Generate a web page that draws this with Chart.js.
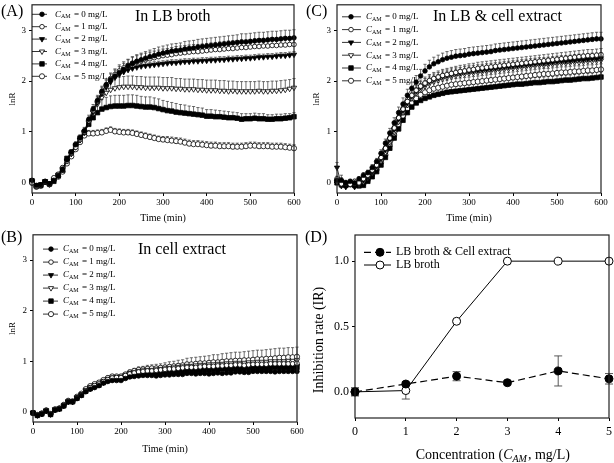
<!DOCTYPE html>
<html>
<head>
<meta charset="utf-8">
<script src="https://cdn.jsdelivr.net/npm/chart.js"></script>
<style>
  body { margin: 0; background: #fff; }
  #wrap { position: relative; width: 614px; height: 463px; }
  canvas { position: absolute; }
</style>
</head>
<body>
<div id="wrap">
  <canvas id="chartA" width="304" height="230" style="left:0px;top:0px"></canvas>
  <canvas id="chartC" width="310" height="230" style="left:304px;top:0px"></canvas>
  <canvas id="chartB" width="304" height="233" style="left:0px;top:230px"></canvas>
  <canvas id="chartD" width="310" height="233" style="left:304px;top:230px"></canvas>
</div>
<script>
// ---- data ----
const timeMin = [0,10,20,30,40,50,60,70,80,90,
  100,110,120,130,140,150,160,170,180,190,
  200,210,220,230,240,250,260,270,280,290,
  300,310,320,330,340,350,360,370,380,390,
  400,410,420,430,440,450,460,470,480,490,
  500,510,520,530,540,550,560,570,580,590,
  600];
const timeTicks = [0, 100, 200, 300, 400, 500, 600];
const lnRTicks = [0, 1, 2, 3];
const concMgL = [0, 1, 2, 3, 4, 5];

// (A) in LB broth
const brothCam0 = [0.05,-0.05,-0.04,0.03,-0.02,0.05,0.15,0.27,0.45,0.60,
  0.75,0.88,1.02,1.25,1.45,1.62,1.80,1.93,2.03,2.10,
  2.17,2.23,2.30,2.35,2.39,2.42,2.45,2.48,2.50,2.53,
  2.55,2.57,2.59,2.60,2.61,2.63,2.64,2.65,2.67,2.68,
  2.69,2.70,2.71,2.72,2.73,2.74,2.75,2.76,2.77,2.77,
  2.78,2.79,2.80,2.80,2.81,2.82,2.82,2.83,2.84,2.84,
  2.85];
const brothCam1 = [0.00,-0.07,-0.05,0.02,-0.03,0.10,0.17,0.30,0.42,0.58,
  0.70,0.85,1.00,1.22,1.42,1.60,1.78,1.92,2.05,2.13,
  2.20,2.26,2.31,2.35,2.38,2.40,2.42,2.44,2.46,2.48,
  2.50,2.51,2.52,2.54,2.55,2.56,2.57,2.58,2.58,2.59,
  2.60,2.61,2.62,2.62,2.63,2.64,2.64,2.65,2.66,2.66,
  2.67,2.68,2.68,2.69,2.69,2.70,2.70,2.71,2.71,2.72,
  2.72];
const brothCam2 = [0.02,-0.06,-0.03,0.03,-0.02,0.06,0.14,0.28,0.43,0.57,
  0.72,0.85,1.00,1.20,1.40,1.58,1.75,1.88,1.98,2.07,
  2.13,2.18,2.22,2.25,2.27,2.29,2.30,2.31,2.32,2.33,
  2.34,2.35,2.36,2.36,2.37,2.38,2.38,2.39,2.39,2.40,
  2.40,2.41,2.41,2.42,2.42,2.43,2.43,2.44,2.44,2.45,
  2.45,2.46,2.47,2.47,2.48,2.48,2.49,2.50,2.50,2.51,
  2.52];
const brothCam3 = [0.03,-0.05,-0.04,0.02,-0.03,0.07,0.16,0.26,0.44,0.58,
  0.70,0.84,0.98,1.18,1.38,1.55,1.68,1.77,1.83,1.86,
  1.88,1.89,1.89,1.89,1.88,1.88,1.87,1.87,1.87,1.87,
  1.86,1.86,1.86,1.85,1.85,1.84,1.84,1.84,1.83,1.83,
  1.82,1.82,1.82,1.81,1.81,1.80,1.81,1.80,1.80,1.80,
  1.80,1.80,1.81,1.80,1.80,1.81,1.81,1.82,1.83,1.85,
  1.87];
const brothCam4 = [0.04,-0.06,-0.05,0.02,-0.02,0.03,0.14,0.25,0.48,0.60,
  0.74,0.88,1.00,1.15,1.28,1.38,1.45,1.48,1.50,1.51,
  1.51,1.51,1.52,1.52,1.51,1.50,1.49,1.49,1.48,1.46,
  1.44,1.42,1.41,1.39,1.38,1.37,1.36,1.35,1.34,1.33,
  1.31,1.31,1.30,1.30,1.29,1.28,1.28,1.27,1.25,1.26,
  1.26,1.27,1.26,1.26,1.25,1.25,1.26,1.26,1.27,1.28,
  1.30];
const brothCam5 = [0.00,-0.08,-0.06,0.02,-0.03,0.06,0.12,0.22,0.38,0.52,
  0.66,0.80,0.93,0.97,0.97,0.98,0.99,1.02,1.04,1.01,
  1.00,0.99,0.99,0.98,0.96,0.94,0.92,0.90,0.88,0.86,
  0.85,0.84,0.83,0.82,0.81,0.79,0.77,0.76,0.76,0.75,
  0.74,0.73,0.73,0.72,0.72,0.72,0.71,0.71,0.71,0.72,
  0.73,0.73,0.72,0.72,0.72,0.71,0.71,0.71,0.70,0.69,
  0.68];
const brothErr0 = [0.03,0.03,0.03,0.03,0.03,0.03,0.04,0.04,0.05,0.05,
  0.06,0.06,0.07,0.08,0.09,0.10,0.10,0.11,0.11,0.12,
  0.12,0.12,0.12,0.13,0.13,0.13,0.13,0.13,0.14,0.14,
  0.14,0.14,0.14,0.14,0.14,0.15,0.15,0.15,0.15,0.15,
  0.15,0.15,0.15,0.15,0.15,0.15,0.15,0.15,0.16,0.16,
  0.16,0.16,0.16,0.16,0.16,0.16,0.16,0.16,0.16,0.16,
  0.16];
const brothErr1 = [0.02,0.02,0.03,0.03,0.03,0.03,0.03,0.04,0.04,0.05,
  0.05,0.06,0.07,0.07,0.08,0.09,0.10,0.10,0.11,0.11,
  0.12,0.12,0.12,0.12,0.12,0.13,0.13,0.13,0.13,0.13,
  0.13,0.13,0.14,0.14,0.14,0.14,0.14,0.14,0.14,0.14,
  0.14,0.14,0.14,0.15,0.15,0.15,0.15,0.15,0.15,0.15,
  0.15,0.15,0.15,0.15,0.15,0.15,0.15,0.15,0.15,0.15,
  0.15];
const brothErr2 = [0.02,0.02,0.02,0.02,0.02,0.03,0.03,0.03,0.04,0.04,
  0.04,0.05,0.05,0.05,0.06,0.06,0.06,0.06,0.06,0.06,
  0.06,0.06,0.06,0.06,0.06,0.06,0.06,0.06,0.06,0.06,
  0.06,0.06,0.06,0.06,0.06,0.06,0.06,0.06,0.06,0.06,
  0.06,0.06,0.06,0.06,0.06,0.06,0.06,0.06,0.06,0.06,
  0.06,0.06,0.06,0.06,0.06,0.06,0.06,0.06,0.06,0.06,
  0.06];
const brothErr3 = [0.03,0.03,0.03,0.03,0.03,0.03,0.03,0.04,0.04,0.05,
  0.05,0.06,0.08,0.10,0.12,0.14,0.16,0.18,0.19,0.20,
  0.20,0.20,0.21,0.21,0.21,0.21,0.21,0.21,0.21,0.21,
  0.21,0.21,0.21,0.20,0.20,0.20,0.20,0.20,0.20,0.20,
  0.20,0.20,0.20,0.20,0.20,0.20,0.19,0.19,0.19,0.19,
  0.19,0.19,0.19,0.19,0.19,0.19,0.19,0.19,0.19,0.18,
  0.18];
const brothErr4 = [0.03,0.03,0.03,0.03,0.03,0.03,0.03,0.04,0.04,0.05,
  0.05,0.06,0.08,0.11,0.14,0.17,0.19,0.20,0.21,0.21,
  0.21,0.21,0.21,0.21,0.21,0.20,0.20,0.20,0.19,0.19,
  0.18,0.18,0.17,0.17,0.16,0.16,0.15,0.15,0.14,0.14,
  0.13,0.13,0.13,0.12,0.12,0.12,0.11,0.11,0.11,0.10,
  0.10,0.10,0.10,0.10,0.09,0.09,0.09,0.09,0.09,0.08,
  0.08];
const brothErr5 = [0.02,0.02,0.02,0.02,0.02,0.02,0.03,0.03,0.03,0.04,
  0.04,0.05,0.05,0.06,0.06,0.06,0.06,0.06,0.06,0.06,
  0.06,0.06,0.06,0.06,0.06,0.06,0.06,0.06,0.06,0.06,
  0.06,0.07,0.07,0.07,0.07,0.07,0.07,0.07,0.07,0.07,
  0.07,0.07,0.07,0.07,0.07,0.07,0.07,0.07,0.07,0.07,
  0.07,0.07,0.07,0.07,0.07,0.07,0.07,0.07,0.07,0.07,
  0.07];

// (B) in cell extract
const extractCam0 = [-0.02,-0.07,-0.04,0.02,-0.05,0.04,0.06,0.12,0.20,0.20,
  0.27,0.33,0.40,0.45,0.48,0.52,0.57,0.60,0.62,0.62,
  0.62,0.66,0.69,0.70,0.71,0.72,0.72,0.72,0.71,0.72,
  0.73,0.73,0.74,0.74,0.74,0.76,0.76,0.75,0.76,0.76,
  0.75,0.76,0.77,0.76,0.77,0.77,0.79,0.79,0.78,0.78,
  0.80,0.80,0.80,0.80,0.80,0.79,0.80,0.80,0.80,0.80,
  0.80];
const extractCam1 = [-0.02,-0.06,-0.03,0.03,-0.04,0.05,0.07,0.13,0.21,0.20,
  0.28,0.34,0.42,0.48,0.52,0.55,0.60,0.64,0.67,0.68,
  0.68,0.72,0.75,0.77,0.79,0.80,0.81,0.81,0.82,0.83,
  0.84,0.85,0.85,0.86,0.87,0.88,0.88,0.88,0.89,0.90,
  0.90,0.90,0.91,0.91,0.92,0.92,0.93,0.93,0.92,0.93,
  0.94,0.94,0.94,0.94,0.95,0.95,0.95,0.95,0.95,0.95,
  0.96];
const extractCam2 = [-0.02,-0.07,-0.04,0.02,-0.05,0.04,0.06,0.12,0.20,0.20,
  0.27,0.33,0.41,0.46,0.50,0.53,0.58,0.62,0.64,0.65,
  0.65,0.69,0.72,0.74,0.76,0.77,0.78,0.78,0.78,0.79,
  0.80,0.80,0.81,0.82,0.82,0.83,0.84,0.84,0.85,0.85,
  0.86,0.86,0.87,0.87,0.87,0.88,0.88,0.89,0.88,0.89,
  0.89,0.90,0.90,0.90,0.90,0.90,0.90,0.91,0.91,0.91,
  0.91];
const extractCam3 = [-0.02,-0.06,-0.04,0.03,-0.04,0.05,0.07,0.13,0.21,0.21,
  0.29,0.35,0.43,0.49,0.53,0.56,0.61,0.65,0.68,0.69,
  0.69,0.73,0.77,0.79,0.81,0.82,0.83,0.83,0.84,0.85,
  0.86,0.87,0.88,0.89,0.90,0.91,0.91,0.92,0.93,0.93,
  0.94,0.94,0.95,0.95,0.96,0.96,0.97,0.97,0.97,0.98,
  0.98,0.99,0.99,0.99,1.00,1.00,1.00,1.00,1.01,1.01,
  1.02];
const extractCam4 = [-0.02,-0.07,-0.04,0.02,-0.05,0.04,0.06,0.12,0.20,0.20,
  0.27,0.33,0.41,0.46,0.50,0.53,0.58,0.62,0.64,0.65,
  0.65,0.68,0.71,0.73,0.74,0.75,0.76,0.76,0.76,0.77,
  0.78,0.78,0.79,0.80,0.80,0.81,0.82,0.82,0.83,0.83,
  0.83,0.84,0.84,0.85,0.85,0.85,0.86,0.86,0.86,0.86,
  0.87,0.87,0.87,0.87,0.88,0.88,0.88,0.88,0.88,0.88,
  0.88];
const extractCam5 = [-0.02,-0.06,-0.03,0.03,-0.04,0.05,0.07,0.14,0.22,0.21,
  0.30,0.36,0.45,0.51,0.55,0.58,0.63,0.67,0.70,0.70,
  0.70,0.74,0.78,0.81,0.83,0.84,0.85,0.86,0.86,0.87,
  0.88,0.89,0.90,0.91,0.92,0.94,0.94,0.95,0.96,0.96,
  0.97,0.98,0.98,0.99,1.00,1.00,1.01,1.01,1.02,1.02,
  1.03,1.04,1.04,1.05,1.05,1.06,1.07,1.07,1.08,1.08,
  1.09];
const extractErr0 = [0.02,0.02,0.02,0.02,0.02,0.02,0.02,0.02,0.02,0.02,
  0.02,0.02,0.02,0.02,0.02,0.02,0.02,0.02,0.02,0.02,
  0.02,0.02,0.02,0.02,0.02,0.02,0.02,0.02,0.02,0.02,
  0.02,0.02,0.02,0.02,0.02,0.02,0.02,0.02,0.02,0.02,
  0.02,0.02,0.02,0.02,0.02,0.02,0.02,0.02,0.02,0.02,
  0.02,0.02,0.02,0.02,0.02,0.02,0.02,0.02,0.02,0.02,
  0.02];
const extractErr1 = [0.02,0.02,0.02,0.02,0.02,0.02,0.02,0.02,0.02,0.02,
  0.02,0.02,0.03,0.03,0.03,0.03,0.03,0.03,0.03,0.03,
  0.03,0.03,0.03,0.03,0.03,0.03,0.04,0.04,0.04,0.04,
  0.04,0.04,0.04,0.04,0.04,0.04,0.04,0.04,0.04,0.04,
  0.04,0.04,0.04,0.04,0.04,0.04,0.04,0.04,0.04,0.04,
  0.04,0.04,0.04,0.04,0.04,0.04,0.04,0.04,0.04,0.04,
  0.04];
const extractErr2 = [0.02,0.02,0.02,0.02,0.02,0.02,0.02,0.02,0.02,0.02,
  0.02,0.02,0.02,0.03,0.03,0.03,0.03,0.03,0.03,0.03,
  0.03,0.03,0.03,0.03,0.03,0.03,0.03,0.03,0.03,0.03,
  0.03,0.03,0.03,0.03,0.03,0.03,0.03,0.03,0.03,0.03,
  0.03,0.03,0.03,0.03,0.03,0.03,0.03,0.03,0.03,0.03,
  0.03,0.03,0.03,0.03,0.03,0.03,0.03,0.03,0.03,0.03,
  0.03];
const extractErr3 = [0.02,0.02,0.02,0.02,0.02,0.02,0.02,0.02,0.02,0.02,
  0.02,0.02,0.03,0.03,0.03,0.03,0.03,0.03,0.03,0.03,
  0.03,0.03,0.04,0.04,0.04,0.04,0.04,0.04,0.04,0.05,
  0.05,0.05,0.05,0.05,0.05,0.05,0.05,0.05,0.05,0.05,
  0.05,0.05,0.05,0.06,0.06,0.06,0.06,0.06,0.06,0.06,
  0.06,0.06,0.06,0.06,0.06,0.06,0.06,0.06,0.06,0.06,
  0.06];
const extractErr4 = [0.02,0.02,0.02,0.02,0.02,0.02,0.02,0.02,0.02,0.02,
  0.02,0.02,0.02,0.02,0.02,0.03,0.03,0.03,0.03,0.03,
  0.03,0.03,0.03,0.03,0.03,0.03,0.03,0.03,0.03,0.03,
  0.03,0.03,0.03,0.03,0.03,0.03,0.03,0.03,0.03,0.03,
  0.03,0.03,0.03,0.03,0.03,0.03,0.03,0.03,0.03,0.03,
  0.03,0.03,0.03,0.03,0.03,0.03,0.03,0.03,0.03,0.03,
  0.03];
const extractErr5 = [0.02,0.02,0.02,0.02,0.02,0.02,0.02,0.02,0.02,0.02,
  0.03,0.03,0.03,0.03,0.03,0.03,0.03,0.04,0.04,0.04,
  0.04,0.04,0.05,0.05,0.06,0.06,0.07,0.07,0.08,0.08,
  0.09,0.10,0.10,0.11,0.11,0.12,0.13,0.13,0.13,0.14,
  0.14,0.15,0.15,0.16,0.16,0.17,0.17,0.17,0.17,0.18,
  0.18,0.18,0.18,0.18,0.19,0.19,0.19,0.19,0.19,0.19,
  0.19];

// (C) in LB & cell extract
const mixCam0 = [0.05,0.05,0.00,0.03,0.00,0.08,0.15,0.20,0.30,0.42,
  0.58,0.78,0.98,1.18,1.38,1.55,1.72,1.86,1.98,2.10,
  2.20,2.28,2.34,2.38,2.42,2.45,2.47,2.49,2.50,2.51,
  2.53,2.54,2.55,2.56,2.57,2.58,2.60,2.61,2.62,2.63,
  2.64,2.65,2.66,2.67,2.68,2.69,2.70,2.71,2.72,2.73,
  2.74,2.75,2.76,2.77,2.78,2.79,2.80,2.81,2.82,2.83,
  2.83];
const mixCam1 = [0.08,-0.02,0.00,-0.03,0.03,0.00,0.08,0.15,0.25,0.35,
  0.50,0.68,0.88,1.08,1.28,1.45,1.60,1.72,1.82,1.90,
  1.96,2.01,2.05,2.08,2.11,2.13,2.15,2.17,2.19,2.20,
  2.22,2.23,2.25,2.26,2.27,2.28,2.29,2.30,2.31,2.32,
  2.33,2.34,2.35,2.36,2.37,2.38,2.39,2.40,2.41,2.42,
  2.43,2.44,2.45,2.46,2.47,2.48,2.49,2.50,2.50,2.51,
  2.52];
const mixCam2 = [0.30,-0.05,-0.08,-0.03,-0.08,-0.02,0.05,0.12,0.22,0.33,
  0.47,0.65,0.85,1.05,1.25,1.42,1.57,1.70,1.80,1.88,
  1.94,1.99,2.03,2.06,2.09,2.11,2.13,2.15,2.16,2.18,
  2.19,2.20,2.21,2.22,2.23,2.24,2.25,2.26,2.27,2.28,
  2.29,2.30,2.31,2.32,2.33,2.34,2.35,2.35,2.36,2.37,
  2.38,2.39,2.39,2.40,2.41,2.42,2.42,2.43,2.44,2.44,
  2.45];
const mixCam3 = [0.02,-0.06,-0.05,-0.02,-0.06,-0.04,0.02,0.10,0.20,0.30,
  0.43,0.60,0.80,1.00,1.20,1.38,1.53,1.66,1.76,1.84,
  1.90,1.95,1.99,2.02,2.05,2.07,2.09,2.11,2.12,2.14,
  2.15,2.16,2.17,2.18,2.19,2.20,2.21,2.22,2.23,2.24,
  2.25,2.26,2.27,2.28,2.29,2.30,2.31,2.31,2.32,2.33,
  2.34,2.35,2.35,2.36,2.37,2.37,2.38,2.39,2.39,2.40,
  2.41];
const mixCam4 = [0.00,-0.04,-0.05,-0.03,-0.05,-0.06,-0.05,0.03,0.12,0.22,
  0.35,0.50,0.68,0.88,1.06,1.23,1.38,1.49,1.57,1.62,
  1.66,1.69,1.72,1.74,1.76,1.78,1.79,1.80,1.81,1.82,
  1.83,1.84,1.85,1.86,1.87,1.88,1.89,1.90,1.91,1.92,
  1.93,1.94,1.94,1.95,1.96,1.97,1.97,1.98,1.99,1.99,
  2.00,2.01,2.02,2.02,2.03,2.04,2.05,2.05,2.06,2.07,
  2.08];
const mixCam5 = [0.05,0.02,-0.02,0.00,-0.04,-0.03,-0.02,0.06,0.16,0.26,
  0.40,0.55,0.74,0.94,1.13,1.30,1.45,1.57,1.66,1.73,
  1.78,1.82,1.85,1.87,1.89,1.91,1.93,1.94,1.95,1.96,
  1.97,1.98,1.99,2.00,2.01,2.02,2.03,2.04,2.05,2.06,
  2.07,2.08,2.09,2.10,2.11,2.12,2.13,2.14,2.14,2.15,
  2.16,2.17,2.17,2.18,2.19,2.19,2.20,2.21,2.21,2.22,
  2.23];
const mixErr0 = [0.04,0.05,0.04,0.04,0.04,0.04,0.05,0.05,0.06,0.06,
  0.07,0.08,0.09,0.10,0.11,0.12,0.12,0.12,0.13,0.13,
  0.13,0.13,0.13,0.13,0.13,0.13,0.13,0.13,0.13,0.13,
  0.13,0.13,0.13,0.13,0.13,0.13,0.13,0.13,0.13,0.13,
  0.13,0.13,0.13,0.13,0.13,0.13,0.13,0.13,0.13,0.13,
  0.13,0.13,0.13,0.13,0.13,0.13,0.13,0.13,0.13,0.13,
  0.13];
const mixErr1 = [0.05,0.17,0.05,0.04,0.04,0.04,0.05,0.05,0.06,0.06,
  0.07,0.08,0.09,0.10,0.11,0.11,0.12,0.12,0.12,0.12,
  0.12,0.12,0.12,0.12,0.12,0.12,0.12,0.12,0.12,0.12,
  0.12,0.12,0.12,0.12,0.12,0.12,0.12,0.12,0.12,0.12,
  0.12,0.12,0.12,0.12,0.12,0.12,0.12,0.12,0.12,0.12,
  0.12,0.12,0.12,0.12,0.12,0.12,0.12,0.12,0.12,0.12,
  0.12];
const mixErr2 = [0.10,0.05,0.04,0.04,0.04,0.04,0.05,0.05,0.06,0.06,
  0.07,0.08,0.09,0.10,0.10,0.11,0.11,0.11,0.11,0.11,
  0.11,0.11,0.11,0.11,0.11,0.11,0.11,0.11,0.11,0.11,
  0.11,0.11,0.11,0.11,0.11,0.11,0.11,0.11,0.11,0.11,
  0.11,0.11,0.11,0.11,0.11,0.11,0.11,0.11,0.11,0.11,
  0.11,0.11,0.11,0.11,0.11,0.11,0.11,0.11,0.11,0.11,
  0.11];
const mixErr3 = [0.05,0.05,0.04,0.04,0.04,0.04,0.05,0.05,0.06,0.06,
  0.07,0.08,0.09,0.10,0.10,0.11,0.11,0.11,0.11,0.11,
  0.11,0.11,0.11,0.11,0.11,0.11,0.11,0.11,0.11,0.11,
  0.11,0.11,0.11,0.11,0.11,0.11,0.11,0.11,0.11,0.11,
  0.11,0.11,0.11,0.11,0.11,0.11,0.11,0.11,0.11,0.11,
  0.11,0.11,0.11,0.11,0.11,0.11,0.11,0.11,0.11,0.11,
  0.11];
const mixErr4 = [0.04,0.04,0.04,0.04,0.04,0.04,0.04,0.05,0.05,0.06,
  0.06,0.07,0.08,0.09,0.10,0.10,0.10,0.10,0.10,0.10,
  0.10,0.10,0.10,0.10,0.10,0.10,0.10,0.10,0.10,0.10,
  0.10,0.10,0.10,0.10,0.10,0.10,0.10,0.10,0.10,0.10,
  0.10,0.10,0.10,0.10,0.10,0.10,0.10,0.10,0.10,0.10,
  0.10,0.10,0.10,0.10,0.10,0.10,0.10,0.10,0.10,0.10,
  0.10];
const mixErr5 = [0.05,0.04,0.04,0.04,0.04,0.04,0.04,0.05,0.05,0.06,
  0.06,0.07,0.08,0.09,0.10,0.11,0.11,0.11,0.11,0.11,
  0.11,0.11,0.11,0.11,0.11,0.11,0.11,0.11,0.11,0.11,
  0.11,0.11,0.11,0.11,0.11,0.11,0.11,0.11,0.11,0.11,
  0.11,0.11,0.11,0.11,0.11,0.11,0.11,0.11,0.11,0.11,
  0.11,0.11,0.11,0.11,0.11,0.11,0.11,0.11,0.11,0.11,
  0.11];

// (D) inhibition rate
const doseMgL = [0, 1, 2, 3, 4, 5];
const irMixed = [0.00, 0.06, 0.12, 0.07, 0.16, 0.10];
const irMixedErr = [0.03, 0.01, 0.035, 0.015, 0.115, 0.04];
const irBroth = [0.00, 0.01, 0.54, 1.00, 1.00, 1.00];
const irBrothErr = [0.03, 0.065, 0.01, 0, 0, 0];
const irTicks = [0, 0.5, 1.0];

// ---- drawing ----
const SERIF = '"Liberation Serif", "Times New Roman", serif';
Chart.defaults.font.family = SERIF;
Chart.defaults.color = '#000';

const markers = [
  { style: 'circle', r: 2.3, fill: '#000' },
  { style: 'circle', r: 2.3, fill: '#fff' },
  { style: 'triangle', r: 3.0, fill: '#000' },
  { style: 'triangle', r: 3.0, fill: '#fff' },
  { style: 'rect', r: 3.2, fill: '#000' },
  { style: 'circle', r: 2.6, fill: '#fff' }
];

function drawMarker(ctx, style, r, fill, bw, x, y) {
  ctx.beginPath();
  if (style === 'circle') {
    ctx.arc(x, y, r, 0, Math.PI * 2);
  } else if (style === 'rect') {
    const s = r * Math.SQRT1_2;
    ctx.rect(x - s, y - s, 2 * s, 2 * s);
  } else {
    ctx.moveTo(x, y + r);
    ctx.lineTo(x - r * 0.866, y - r * 0.5);
    ctx.lineTo(x + r * 0.866, y - r * 0.5);
    ctx.closePath();
  }
  ctx.fillStyle = fill;
  ctx.fill();
  ctx.strokeStyle = '#000';
  ctx.lineWidth = bw;
  ctx.stroke();
}

// C with subscript AM, then the rest of the text
function drawCam(ctx, x, y, size, before, after, italicSub) {
  ctx.textAlign = 'left';
  ctx.textBaseline = 'middle';
  ctx.font = size + 'px ' + SERIF;
  ctx.fillText(before, x, y);
  x += ctx.measureText(before).width;
  ctx.font = 'italic ' + size + 'px ' + SERIF;
  ctx.fillText('C', x, y);
  x += ctx.measureText('C').width;
  ctx.font = (italicSub ? 'italic ' : '') + Math.round(size * 0.68) + 'px ' + SERIF;
  ctx.fillText('AM', x, y + size * 0.28);
  x += ctx.measureText('AM').width + 1;
  ctx.font = size + 'px ' + SERIF;
  ctx.fillText(after, x, y);
}

const framePlugin = {
  id: 'frame',
  afterDraw(chart) {
    const { ctx, chartArea: a } = chart;
    ctx.save();
    ctx.strokeStyle = '#222';
    ctx.lineWidth = 1.2;
    ctx.strokeRect(a.left, a.top, a.right - a.left, a.bottom - a.top);
    ctx.restore();
  }
};

const errorBarPlugin = {
  id: 'errorBars',
  beforeDatasetsDraw(chart) {
    const ctx = chart.ctx;
    const yScale = chart.scales.y;
    ctx.save();
    chart.data.datasets.forEach((ds, di) => {
      if (!ds.errors) return;
      const meta = chart.getDatasetMeta(di);
      ctx.strokeStyle = ds.errColor;
      ctx.lineWidth = ds.errWidth;
      meta.data.forEach((pt, i) => {
        const e = ds.errors[i];
        if (!e) return;
        const v = ds.data[i].y;
        const top = yScale.getPixelForValue(v + e);
        const bot = ds.errBoth ? yScale.getPixelForValue(v - e) : pt.y;
        const c = ds.capHalf;
        ctx.beginPath();
        ctx.moveTo(pt.x, bot);
        ctx.lineTo(pt.x, top);
        ctx.moveTo(pt.x - c, top);
        ctx.lineTo(pt.x + c, top);
        if (ds.errBoth) {
          ctx.moveTo(pt.x - c, bot);
          ctx.lineTo(pt.x + c, bot);
        }
        ctx.stroke();
      });
    });
    ctx.restore();
  }
};

const decorPlugin = {
  id: 'panelDecor',
  afterDraw(chart, args, o) {
    const { ctx, chartArea: a } = chart;
    ctx.save();
    ctx.fillStyle = '#000';
    ctx.textAlign = 'left';
    ctx.textBaseline = 'middle';
    ctx.font = '16px ' + SERIF;
    ctx.fillText(o.label, o.labelX, o.labelY);
    if (o.title) {
      ctx.font = '16px ' + SERIF;
      ctx.fillText(o.title, a.left + o.titleX, a.top + o.titleY);
    }
    const L = o.legend;
    chart.data.datasets.forEach((ds, i) => {
      const y = a.top + L.y0 + i * L.dy;
      ctx.strokeStyle = '#000';
      ctx.lineWidth = ds.borderWidth;
      ctx.setLineDash(ds.borderDash || []);
      ctx.beginPath();
      ctx.moveTo(a.left + L.x0, y);
      ctx.lineTo(a.left + L.x1, y);
      ctx.stroke();
      ctx.setLineDash([]);
      drawMarker(ctx, ds.markerStyle, ds.pointRadius, ds.pointBackgroundColor,
        ds.pointBorderWidth, a.left + L.xm, y);
      ctx.fillStyle = '#000';
      if (L.cam) {
        drawCam(ctx, a.left + L.xt, y, L.size, '', ' = ' + ds.conc + ' mg/L', false);
      } else {
        ctx.font = L.size + 'px ' + SERIF;
        ctx.textAlign = 'left';
        ctx.fillText(ds.label, a.left + L.xt, y);
      }
    });
    if (o.yTitle) {
      ctx.save();
      ctx.translate(o.yTitle.x, o.yTitle.y);
      ctx.rotate(-Math.PI / 2);
      ctx.font = o.yTitle.size + 'px ' + SERIF;
      ctx.textAlign = 'center';
      ctx.fillText(o.yTitle.text, 0, 0);
      ctx.restore();
    }
    if (o.xTitle) {
      ctx.fillStyle = '#000';
      drawCam(ctx, a.left + o.xTitle.x, o.xTitle.y, o.xTitle.size, 'Concentration (', ', mg/L)', true);
    }
    ctx.restore();
  }
};

function timeChart(id, series, errs, g) {
  const datasets = series.map((vals, k) => ({
    label: 'CAM = ' + concMgL[k] + ' mg/L',
    conc: concMgL[k],
    data: timeMin.map((t, i) => ({ x: t, y: vals[i] })),
    errors: errs[k],
    errColor: '#333', errWidth: 0.7, capHalf: 1.6, errBoth: false,
    borderColor: '#000', borderWidth: 0.8,
    markerStyle: markers[k].style,
    pointStyle: markers[k].style,
    pointRotation: markers[k].style === 'triangle' ? 180 : 0,
    pointRadius: markers[k].r,
    pointBackgroundColor: markers[k].fill,
    pointBorderColor: '#000', pointBorderWidth: 0.8,
    tension: 0, fill: false, clip: false
  }));
  return new Chart(document.getElementById(id), {
    type: 'line',
    data: { datasets },
    options: {
      responsive: false, animation: false,
      layout: { padding: { left: 0, right: g.padR, top: g.padT, bottom: 0 } },
      plugins: { legend: { display: false }, tooltip: { enabled: false }, panelDecor: g.decor },
      scales: {
        x: {
          type: 'linear', min: 0, max: 600,
          afterBuildTicks: s => { s.ticks = timeTicks.map(v => ({ value: v })); },
          afterFit: s => { s.height = g.xH; s.paddingLeft = 0; s.paddingRight = 0; },
          ticks: { font: { size: 9 }, color: '#000', padding: 1.5, maxRotation: 0, autoSkip: false },
          grid: { drawOnChartArea: false, tickLength: 3, color: '#000' },
          border: { display: false },
          title: { display: true, text: 'Time (min)', font: { size: 10, weight: 'normal' }, color: '#000',
                   padding: { top: 0, bottom: g.xTitlePad } }
        },
        y: {
          min: -0.2, max: 3.5,
          afterBuildTicks: s => { s.ticks = lnRTicks.map(v => ({ value: v })); },
          afterFit: s => { s.width = g.yW; s.paddingTop = 0; s.paddingBottom = 0; },
          ticks: { font: { size: 9 }, color: '#000', padding: 3, autoSkip: false },
          grid: { drawOnChartArea: false, tickLength: 3, color: '#000' },
          border: { display: false },
          title: { display: true, text: 'lnR', font: { size: 9, weight: 'normal' }, color: '#000',
                   padding: { top: 7, bottom: 0 } }
        }
      }
    },
    plugins: [errorBarPlugin, framePlugin, decorPlugin]
  });
}

timeChart('chartA',
  [brothCam0, brothCam1, brothCam2, brothCam3, brothCam4, brothCam5],
  [brothErr0, brothErr1, brothErr2, brothErr3, brothErr4, brothErr5],
  { padR: 10, padT: 3, xH: 37, yW: 32, xTitlePad: 6,
    decor: { label: '(A)', labelX: 1, labelY: 12, title: 'In LB broth', titleX: 103, titleY: 12,
             legend: { x0: 0, x1: 15, xm: 10, xt: 23, y0: 9.5, dy: 12.4, size: 9, cam: true } } });

timeChart('chartC',
  [mixCam0, mixCam1, mixCam2, mixCam3, mixCam4, mixCam5],
  [mixErr0, mixErr1, mixErr2, mixErr3, mixErr4, mixErr5],
  { padR: 13, padT: 3, xH: 37, yW: 33, xTitlePad: 6,
    decor: { label: '(C)', labelX: 2, labelY: 12, title: 'In LB & cell extract', titleX: 96, titleY: 12,
             legend: { x0: 5, x1: 24, xm: 14, xt: 29, y0: 12, dy: 12.8, size: 9, cam: true } } });

timeChart('chartB',
  [extractCam0, extractCam1, extractCam2, extractCam3, extractCam4, extractCam5],
  [extractErr0, extractErr1, extractErr2, extractErr3, extractErr4, extractErr5],
  { padR: 7, padT: 4, xH: 41, yW: 33, xTitlePad: 8,
    decor: { label: '(B)', labelX: 1, labelY: 8, title: 'In cell extract', titleX: 105, titleY: 15,
             legend: { x0: 10, x1: 25, xm: 18, xt: 30, y0: 14.3, dy: 13, size: 9, cam: true } } });

new Chart(document.getElementById('chartD'), {
  type: 'line',
  data: {
    datasets: [
      {
        label: 'LB broth & Cell extract',
        data: doseMgL.map((c, i) => ({ x: c, y: irMixed[i] })),
        errors: irMixedErr, errColor: '#444', errWidth: 0.9, capHalf: 4, errBoth: true,
        borderColor: '#000', borderWidth: 1.2, borderDash: [7, 4],
        markerStyle: 'circle', pointStyle: 'circle', pointRadius: 4,
        pointBackgroundColor: '#000', pointBorderColor: '#000', pointBorderWidth: 1,
        tension: 0, fill: false, clip: false
      },
      {
        label: 'LB broth',
        data: doseMgL.map((c, i) => ({ x: c, y: irBroth[i] })),
        errors: irBrothErr, errColor: '#444', errWidth: 0.9, capHalf: 4, errBoth: true,
        borderColor: '#000', borderWidth: 1,
        markerStyle: 'circle', pointStyle: 'circle', pointRadius: 4,
        pointBackgroundColor: '#fff', pointBorderColor: '#000', pointBorderWidth: 1,
        tension: 0, fill: false, clip: false
      }
    ]
  },
  options: {
    responsive: false, animation: false,
    layout: { padding: { left: 0, right: 5, top: 5, bottom: 0 } },
    plugins: {
      legend: { display: false }, tooltip: { enabled: false },
      panelDecor: {
        label: '(D)', labelX: 1, labelY: 8,
        legend: { x0: 9, x1: 36, xm: 25, xt: 41, y0: 17.3, dy: 12.7, size: 12, cam: false },
        yTitle: { text: 'Inhibition rate (IR)', x: 15, y: 110, size: 14 },
        xTitle: { x: 60.7, y: 225, size: 14 }
      }
    },
    scales: {
      x: {
        type: 'linear', min: 0, max: 5,
        afterBuildTicks: s => { s.ticks = doseMgL.map(v => ({ value: v })); },
        afterFit: s => { s.height = 45; s.paddingLeft = 0; s.paddingRight = 0; },
        ticks: { font: { size: 12 }, color: '#000', padding: 3.5, maxRotation: 0, autoSkip: false },
        grid: { drawOnChartArea: false, tickLength: 3, color: '#000' },
        border: { display: false }
      },
      y: {
        min: -0.2, max: 1.2,
        afterBuildTicks: s => { s.ticks = irTicks.map(v => ({ value: v })); },
        afterFit: s => { s.width = 51; s.paddingTop = 0; s.paddingBottom = 0; },
        ticks: { font: { size: 12 }, color: '#000', padding: 3, autoSkip: false,
                 callback: v => Number(v).toFixed(1) },
        grid: { drawOnChartArea: false, tickLength: 3, color: '#000' },
        border: { display: false }
      }
    }
  },
  plugins: [errorBarPlugin, framePlugin, decorPlugin]
});
</script>
</body>
</html>
